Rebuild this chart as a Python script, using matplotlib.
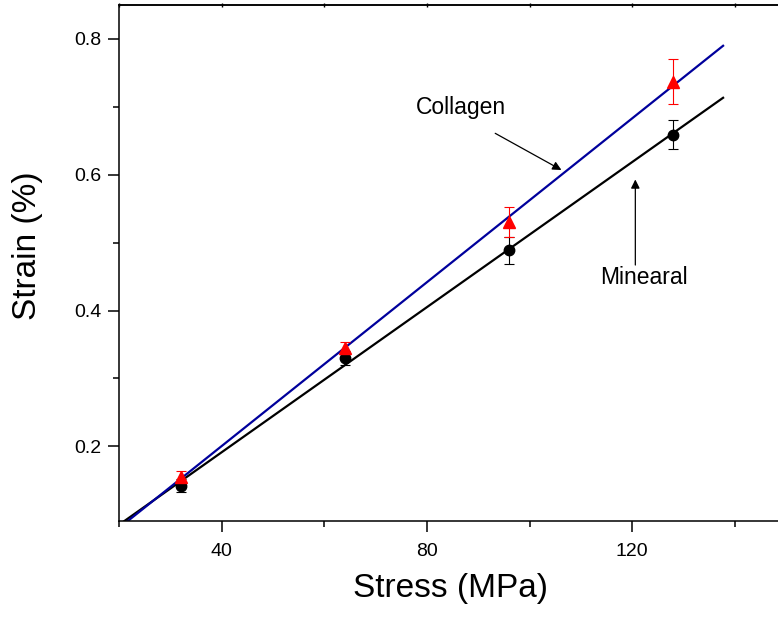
import numpy as np
import matplotlib
matplotlib.use("Agg")
import matplotlib.pyplot as plt
from matplotlib.ticker import MultipleLocator, FixedLocator, NullFormatter

plt.rcParams["font.family"] = ["Liberation Sans", "DejaVu Sans"]

# data
stress = [32, 64, 96, 128]
strain_mineral = [0.142, 0.33, 0.489, 0.659]
err_mineral = [0.010, 0.010, 0.020, 0.021]
strain_collagen = [0.155, 0.345, 0.530, 0.737]
err_collagen = [0.008, 0.008, 0.022, 0.033]

fit_x = np.array([20, 137.7])

fig = plt.figure(figsize=(7.78, 6.17), dpi=100)
ax = fig.add_axes([0.153, 0.1556, 0.847, 0.8363])

# linear fits
k_m, b_m = np.polyfit(stress, strain_mineral, 1)
k_c, b_c = np.polyfit(stress, strain_collagen, 1)
ax.plot(fit_x, k_m * fit_x + b_m, color="black", lw=1.6, zorder=2)
ax.plot(fit_x, k_c * fit_x + b_c, color="#00009C", lw=1.6, zorder=2)

ax.errorbar(stress, strain_mineral, yerr=err_mineral, fmt="o", color="black",
            ms=7.5, capsize=3.5, elinewidth=0.8, capthick=0.8, zorder=3)
ax.errorbar(stress, strain_collagen, yerr=err_collagen, fmt="^", color="red",
            ms=8, capsize=3.5, elinewidth=0.8, capthick=0.8, zorder=3)

arrow = dict(arrowstyle="-|>", color="black", lw=0.9, shrinkA=0, shrinkB=0,
             mutation_scale=13)
ax.text(86.7, 0.699, "Collagen", fontsize=16.5, ha="center", va="center")
ax.annotate("", xy=(106.2, 0.607), xytext=(93.3, 0.661), arrowprops=arrow)
ax.text(122.3, 0.449, "Minearal", fontsize=16.5, ha="center", va="center")
ax.annotate("", xy=(120.6, 0.593), xytext=(120.6, 0.467), arrowprops=arrow)

ax.set_xlim(20, 148.4)
ax.set_ylim(0.09, 0.85)
ax.xaxis.set_major_locator(MultipleLocator(40))
ax.xaxis.set_minor_locator(MultipleLocator(20))
ax.yaxis.set_major_locator(MultipleLocator(0.2))
ax.yaxis.set_minor_locator(FixedLocator([0.3, 0.5, 0.7]))
ax.tick_params(which="major", direction="out", length=8, width=1.1, labelsize=14)
ax.tick_params(which="minor", direction="out", length=4.5, width=1.1)
ax.tick_params(axis="x", which="major", pad=8)
ax.tick_params(axis="y", which="major", pad=4.5)

# short ticks on the top frame
top = ax.secondary_xaxis("top")
top.xaxis.set_major_locator(MultipleLocator(20))
top.xaxis.set_major_formatter(NullFormatter())
top.tick_params(direction="inout", length=3, width=1)
top.spines["top"].set_linewidth(1.1)

ax.spines["right"].set_visible(False)
for s in ["left", "bottom", "top"]:
    ax.spines[s].set_linewidth(1.1)

fig.text(450 / 778, 1 - 588 / 617, "Stress (MPa)", fontsize=24,
         ha="center", va="center")
fig.text(28 / 778, 1 - 245.5 / 617, "Strain (%)", fontsize=24,
         ha="center", va="center", rotation=90)

fig.savefig("out.png", dpi=100)
